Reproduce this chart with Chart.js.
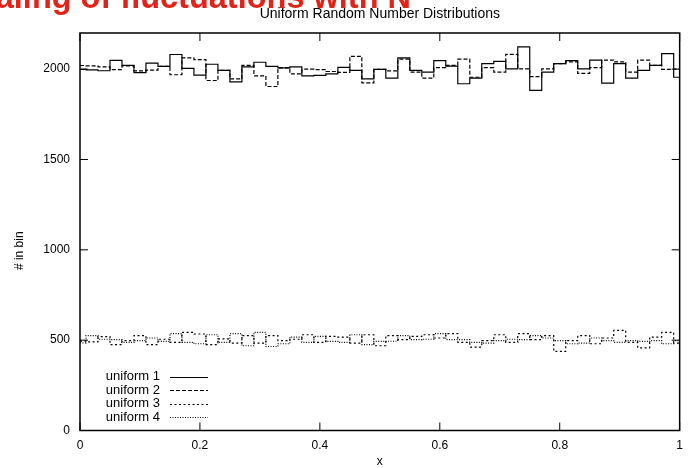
<!DOCTYPE html>
<html>
<head>
<meta charset="utf-8">
<title>Uniform Random Number Distributions</title>
<script src="https://cdn.jsdelivr.net/npm/chart.js@4.4.1/dist/chart.umd.min.js"></script>
<style>
  html, body { margin: 0; padding: 0; background: #fff; }
  #wrap { position: relative; width: 691px; height: 468px; overflow: hidden; }
  #chart { position: absolute; left: 0; top: 0; }
  #slideTitle {
    position: absolute; right: 280px; top: -19px;
    font: bold 32.5px "Liberation Sans", Arial, sans-serif;
    line-height: 32.5px; color: #e2231a; white-space: nowrap;
  }
</style>
</head>
<body>
<div id="wrap">
  <canvas id="chart" width="691" height="468"></canvas>
  <div id="slideTitle">Scaling of fluctuations with N</div>
</div>
<script>
// Histogram bins: one value per bin, bins are 0.02 wide on x in [0, 1]
const binWidth = 0.02;
const xTicks = [0, 0.2, 0.4, 0.6, 0.8, 1];
const yTicks = [0, 500, 1000, 1500, 2000];
const seriesLabels = ['uniform 1', 'uniform 2', 'uniform 3', 'uniform 4'];
const yAxisLabel = '# in bin';

const uniform1 = [1999, 1996, 1991, 2049, 2021, 1981, 2033, 2015, 2081, 2004,
                  1967, 2027, 1993, 1929, 2012, 2038, 2015, 2007, 2012, 1963,
                  1965, 1974, 2010, 1993, 1946, 1999, 1950, 2062, 1993, 1984,
                  2047, 2017, 1919, 1950, 2030, 2043, 2001, 2123, 1882, 1984,
                  2030, 2047, 2001, 2050, 1923, 2030, 1950, 1993, 2021, 2086, 1955];
const uniform2 = [2020, 2018, 2012, 1997, 2018, 1990, 1995, 2015, 1969, 2062,
                  2053, 1937, 1993, 1946, 2021, 1963, 1904, 2007, 1974, 2000,
                  1997, 1987, 1982, 2071, 1924, 1999, 1990, 2055, 1984, 1950,
                  2008, 2021, 2055, 1955, 2008, 1984, 2082, 2001, 1959, 2001,
                  2030, 2040, 1976, 2008, 2050, 2040, 1984, 2050, 2021, 1999, 2000];
const uniform3 = [495, 490, 520, 475, 497, 525, 475, 505, 488, 543,
                  534, 475, 507, 484, 525, 484, 525, 497, 505, 530,
                  488, 521, 517, 484, 530, 469, 525, 503, 521, 530,
                  512, 536, 488, 462, 497, 530, 488, 536, 503, 525,
                  438, 497, 525, 480, 512, 554, 488, 457, 517, 543, 484];
const uniform4 = [485, 525, 505, 503, 488, 497, 512, 493, 536, 488,
                  480, 530, 488, 536, 469, 543, 465, 480, 517, 488,
                  521, 493, 488, 530, 475, 493, 494, 525, 503, 505,
                  536, 503, 503, 488, 484, 497, 505, 503, 525, 512,
                  497, 480, 484, 512, 497, 488, 497, 493, 497, 480, 497];

const lineDashes = [[], [4, 2], [2, 2.5], [1, 1.5]];
const fontFamily = '"Liberation Sans", Arial, Helvetica, sans-serif';

// turn a list of bin counts into {x, y} points at the bin centres
function toPoints(values) {
    return values.map((v, i) => ({ x: i * binWidth, y: v }));
}

// gnuplot style box around the plot with ticks pointing inwards on all sides
const framePlugin = {
    id: 'frame',
    afterDatasetsDraw: function(chart) {
        const ctx = chart.ctx;
        const a = chart.chartArea;
        const xs = chart.scales.x;
        const ys = chart.scales.y;
        const len = 8;
        ctx.save();
        ctx.strokeStyle = '#000';
        ctx.lineWidth = 1.5;
        ctx.setLineDash([]);
        ctx.strokeRect(a.left, a.top, a.right - a.left, a.bottom - a.top);
        ctx.lineWidth = 1;
        ctx.beginPath();
        xs.ticks.forEach(t => {
            const px = xs.getPixelForValue(t.value);
            ctx.moveTo(px, a.bottom); ctx.lineTo(px, a.bottom - len);
            ctx.moveTo(px, a.top); ctx.lineTo(px, a.top + len);
        });
        ys.ticks.forEach(t => {
            const py = ys.getPixelForValue(t.value);
            ctx.moveTo(a.left, py); ctx.lineTo(a.left + len, py);
            ctx.moveTo(a.right, py); ctx.lineTo(a.right - len, py);
        });
        ctx.stroke();

        // y axis label, sits a little below the middle of the plot
        ctx.font = '12px ' + fontFamily;
        ctx.fillStyle = '#000';
        ctx.textAlign = 'center';
        ctx.textBaseline = 'middle';
        ctx.translate(20, (a.top + a.bottom) / 2 + 19);
        ctx.rotate(-Math.PI / 2);
        ctx.fillText(yAxisLabel, 0, 0);
        ctx.restore();
    }
};

// key in the lower left corner: label first, line sample after it
const keyPlugin = {
    id: 'key',
    afterDraw: function(chart) {
        const ctx = chart.ctx;
        const a = chart.chartArea;
        const textRight = a.left + 80;
        const lineStart = a.left + 90;
        const lineEnd = a.left + 128;
        const firstRow = a.bottom - 54;
        const rowStep = 13.5;
        ctx.save();
        ctx.font = '13px ' + fontFamily;
        ctx.fillStyle = '#000';
        ctx.textAlign = 'right';
        ctx.textBaseline = 'middle';
        chart.data.datasets.forEach((ds, i) => {
            const y = firstRow + i * rowStep;
            ctx.fillText(ds.label, textRight, y);
            ctx.strokeStyle = '#000';
            ctx.lineWidth = 1;
            ctx.setLineDash(ds.borderDash);
            ctx.beginPath();
            ctx.moveTo(lineStart, Math.round(y) + 0.5);
            ctx.lineTo(lineEnd, Math.round(y) + 0.5);
            ctx.stroke();
        });
        ctx.restore();
    }
};

const allSeries = [uniform1, uniform2, uniform3, uniform4];

const datasets = allSeries.map((values, i) => ({
    label: seriesLabels[i],
    data: toPoints(values),
    stepped: 'middle',
    borderColor: '#000',
    borderWidth: 1.2,
    borderDash: lineDashes[i],
    pointRadius: 0,
    fill: false
}));

const tickFont = { family: fontFamily, size: 12 };

new Chart(document.getElementById('chart'), {
    type: 'line',
    data: { datasets: datasets },
    options: {
        responsive: false,
        animation: false,
        events: [],
        layout: { padding: { top: 0, right: 6, bottom: 0, left: 0 } },
        plugins: {
            legend: { display: false },
            tooltip: { enabled: false },
            title: {
                display: true,
                fullSize: false,
                text: 'Uniform Random Number Distributions',
                color: '#000',
                font: { family: fontFamily, size: 14, weight: 'normal', lineHeight: 1.2 },
                padding: { top: 5.6, bottom: 10.6 }
            }
        },
        scales: {
            x: {
                type: 'linear',
                min: 0,
                max: 1,
                afterBuildTicks: s => { s.ticks = xTicks.map(v => ({ value: v })); },
                afterFit: s => { s.height = 37.5; },
                grid: { display: false, drawTicks: false },
                border: { display: false },
                ticks: { padding: 8, color: '#000', font: tickFont, maxRotation: 0, autoSkip: false,
                         callback: v => String(v) },
                title: { display: true, text: 'x', color: '#000',
                         font: { family: fontFamily, size: 12, lineHeight: 1 },
                         padding: { top: 0, bottom: 0 } }
            },
            y: {
                type: 'linear',
                min: 0,
                max: 2200,
                afterBuildTicks: s => { s.ticks = yTicks.map(v => ({ value: v })); },
                afterFit: s => { s.width = 80; },
                grid: { display: false, drawTicks: false },
                border: { display: false },
                ticks: { padding: 10, color: '#000', font: tickFont, callback: v => String(v) }
            }
        }
    },
    plugins: [framePlugin, keyPlugin]
});
</script>
</body>
</html>
